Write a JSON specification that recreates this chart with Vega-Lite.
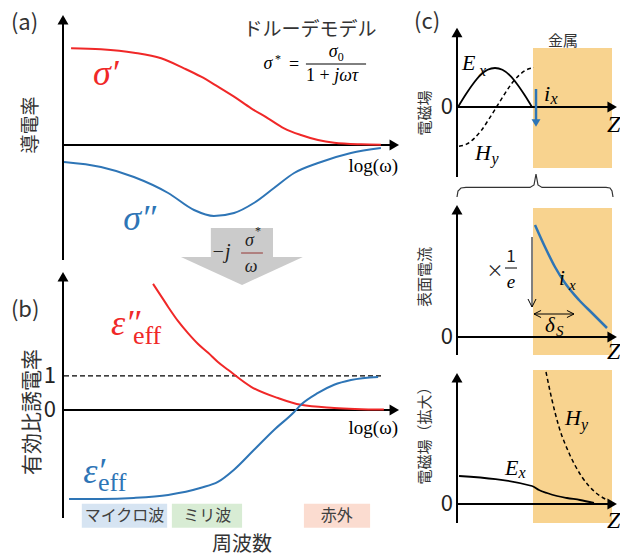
{
"$schema": "https://vega.github.io/schema/vega-lite/v6.json",
"background": "white",
"padding": {"left": 10, "top": 11, "right": 0, "bottom": 4},
"config": {"view": {"stroke": null}},
"spacing": 14,
"bounds": "full",
"hconcat": [
{"vconcat": [
{
"width": 336, "height": 251,
"encoding": {
"x": {"field": "x", "type": "quantitative", "scale": {"domain": [0, 10], "nice": false, "zero": false}, "axis": null},
"y": {"field": "y", "type": "quantitative", "scale": {"domain": [-1.21, 1.30], "nice": false, "zero": false}, "axis": null}
},
"layer": [
{"data": {"values": [{"x": 4.40, "x2": 6.25, "y": -0.83, "y2": -1.13}]}, "mark": {"type": "rect", "color": "#cbcbcb"}, "encoding": {"x2": {"field": "x2"}, "y2": {"field": "y2"}}},
{"data": {"values": [{"x": 3.51, "y": -1.12, "y2": -1.12}, {"x": 5.33, "y": -1.40, "y2": -1.12}, {"x": 7.14, "y": -1.12, "y2": -1.12}]}, "mark": {"type": "area", "color": "#cbcbcb", "opacity": 1, "interpolate": "linear"}, "encoding": {"y2": {"field": "y2"}}},
{"data": {"values": [{"x": 0, "y": -1.15, "x2": 0, "y2": 1.25}, {"x": 0, "y": 0, "x2": 9.86, "y2": 0}]}, "mark": {"type": "rule", "color": "black", "strokeWidth": 2}, "encoding": {"x2": {"field": "x2"}, "y2": {"field": "y2"}}},
{"data": {"values": [{"x": 0, "y": 1.2525}]}, "mark": {"type": "point", "shape": "triangle-up", "filled": true, "size": 120, "color": "black", "opacity": 1}},
{"data": {"values": [{"x": 9.86, "y": 0}]}, "mark": {"type": "point", "shape": "triangle-right", "filled": true, "size": 120, "color": "black", "opacity": 1}},
{"data": {"values": [{"x": 0.24, "y": 0.967}, {"x": 1.13, "y": 0.957}, {"x": 2.11, "y": 0.923}, {"x": 2.92, "y": 0.867}, {"x": 3.60, "y": 0.767}, {"x": 4.11, "y": 0.683}, {"x": 4.61, "y": 0.583}, {"x": 5.09, "y": 0.483}, {"x": 5.60, "y": 0.367}, {"x": 6.10, "y": 0.267}, {"x": 6.58, "y": 0.167}, {"x": 7.08, "y": 0.10}, {"x": 7.59, "y": 0.05}, {"x": 8.07, "y": 0.023}, {"x": 8.87, "y": 0.007}, {"x": 9.46, "y": 0.003}]}, "mark": {"type": "line", "color": "#f02828", "strokeWidth": 2, "interpolate": "monotone"}},
{"data": {"values": [{"x": 0.03, "y": -0.17}, {"x": 1.13, "y": -0.22}, {"x": 2.11, "y": -0.32}, {"x": 3.13, "y": -0.48}, {"x": 3.90, "y": -0.65}, {"x": 4.49, "y": -0.71}, {"x": 5.09, "y": -0.68}, {"x": 5.68, "y": -0.58}, {"x": 6.28, "y": -0.43}, {"x": 6.88, "y": -0.28}, {"x": 7.59, "y": -0.18}, {"x": 8.57, "y": -0.08}, {"x": 9.46, "y": -0.03}]}, "mark": {"type": "line", "color": "#2e75b6", "strokeWidth": 2, "interpolate": "monotone"}},
{"data": {"values": [{"x": 7.23, "x2": 9.02, "y": 0.81, "y2": 0.81}]}, "mark": {"type": "rule", "color": "black", "strokeWidth": 1}, "encoding": {"x2": {"field": "x2"}, "y2": {"field": "y2"}}},
{"data": {"values": [{"x": 5.30, "x2": 5.95, "y": -1.08, "y2": -1.08}]}, "mark": {"type": "rule", "color": "#943634", "strokeWidth": 1}, "encoding": {"x2": {"field": "x2"}, "y2": {"field": "y2"}}},
{"data": {"values": [{"x": -1.55, "y": 1.22, "t": "(a)"}]}, "mark": {"type": "text", "font": "Noto Sans CJK JP", "fontSize": 22, "align": "left", "baseline": "middle", "color": "#333333"}, "encoding": {"text": {"field": "t"}}},
{"data": {"values": [{"x": -0.95, "y": 0.20, "t": "導電率"}]}, "mark": {"type": "text", "font": "Noto Sans CJK JP", "fontSize": 19, "angle": 270, "align": "center", "baseline": "middle", "color": "#333333"}, "encoding": {"text": {"field": "t"}}},
{"data": {"values": [{"x": 7.35, "y": 1.15, "t": "ドルーデモデル"}]}, "mark": {"type": "text", "font": "Noto Sans CJK JP", "fontSize": 19, "align": "center", "baseline": "middle", "color": "#333333"}, "encoding": {"text": {"field": "t"}}},
{"data": {"values": [{"x": 6.10, "y": 0.81, "t": "σ"}, {"x": 8.04, "y": 0.93, "t": "σ"}]}, "mark": {"type": "text", "font": "Liberation Serif", "fontStyle": "italic", "fontSize": 18, "align": "center", "baseline": "middle", "color": "black"}, "encoding": {"text": {"field": "t"}}},
{"data": {"values": [{"x": 6.40, "y": 0.86, "t": "*"}]}, "mark": {"type": "text", "font": "Liberation Serif", "fontSize": 12, "align": "center", "baseline": "middle", "color": "black"}, "encoding": {"text": {"field": "t"}}},
{"data": {"values": [{"x": 8.27, "y": 0.88, "t": "0"}]}, "mark": {"type": "text", "font": "Liberation Serif", "fontSize": 12, "align": "center", "baseline": "middle", "color": "black"}, "encoding": {"text": {"field": "t"}}},
{"data": {"values": [{"x": 6.88, "y": 0.80, "t": "="}]}, "mark": {"type": "text", "font": "Liberation Serif", "fontSize": 18, "align": "center", "baseline": "middle", "color": "black"}, "encoding": {"text": {"field": "t"}}},
{"data": {"values": [{"x": 7.23, "y": 0.69, "t": "1 +"}]}, "mark": {"type": "text", "font": "Liberation Serif", "fontSize": 18, "align": "left", "baseline": "middle", "color": "black"}, "encoding": {"text": {"field": "t"}}},
{"data": {"values": [{"x": 8.07, "y": 0.69, "t": "jωτ"}]}, "mark": {"type": "text", "font": "Liberation Serif", "fontStyle": "italic", "fontSize": 18, "align": "left", "baseline": "middle", "color": "black"}, "encoding": {"text": {"field": "t"}}},
{"data": {"values": [{"x": 0.89, "y": 0.60, "t": "σ′"}]}, "mark": {"type": "text", "font": "Liberation Serif", "fontStyle": "italic", "fontSize": 36, "align": "left", "baseline": "alphabetic", "color": "#f02828"}, "encoding": {"text": {"field": "t"}}},
{"data": {"values": [{"x": 1.79, "y": -0.85, "t": "σ″"}]}, "mark": {"type": "text", "font": "Liberation Serif", "fontStyle": "italic", "fontSize": 36, "align": "left", "baseline": "alphabetic", "color": "#2e75b6"}, "encoding": {"text": {"field": "t"}}},
{"data": {"values": [{"x": 9.97, "y": -0.21, "t": "log(ω)"}]}, "mark": {"type": "text", "font": "Liberation Serif", "fontSize": 19, "align": "right", "baseline": "middle", "color": "black"}, "encoding": {"text": {"field": "t"}}},
{"data": {"values": [{"x": 4.70, "y": -1.07, "t": "−j"}]}, "mark": {"type": "text", "font": "Liberation Serif", "fontStyle": "italic", "fontSize": 20, "align": "center", "baseline": "middle", "color": "#222222"}, "encoding": {"text": {"field": "t"}}},
{"data": {"values": [{"x": 5.55, "y": -0.96, "t": "σ"}, {"x": 5.60, "y": -1.22, "t": "ω"}]}, "mark": {"type": "text", "font": "Liberation Serif", "fontStyle": "italic", "fontSize": 18, "align": "center", "baseline": "middle", "color": "#222222"}, "encoding": {"text": {"field": "t"}}},
{"data": {"values": [{"x": 5.80, "y": -0.86, "t": "*"}]}, "mark": {"type": "text", "font": "Liberation Serif", "fontSize": 12, "align": "center", "baseline": "middle", "color": "#222222"}, "encoding": {"text": {"field": "t"}}}
]
},
{
"width": 336, "height": 252,
"encoding": {
"x": {"field": "x", "type": "quantitative", "scale": {"domain": [0, 10], "nice": false, "zero": false}, "axis": null},
"y": {"field": "y", "type": "quantitative", "scale": {"domain": [-3.18, 4.235], "nice": false, "zero": false}, "axis": null}
},
"layer": [
{"data": {"values": [{"x": 0.56, "x2": 3.10, "y": -2.76, "y2": -3.47, "band": "マイクロ波"}, {"x": 3.24, "x2": 5.33, "y": -2.76, "y2": -3.47, "band": "ミリ波"}, {"x": 7.17, "x2": 9.14, "y": -2.76, "y2": -3.47, "band": "赤外"}]}, "mark": {"type": "rect", "opacity": 1}, "encoding": {"x2": {"field": "x2"}, "y2": {"field": "y2"}, "color": {"field": "band", "type": "nominal", "scale": {"domain": ["マイクロ波", "ミリ波", "赤外"], "range": ["#d6e4f2", "#d8ecd4", "#fbdcd0"]}, "legend": null}}},
{"data": {"values": [{"x": 1.83, "y": -3.12, "t": "マイクロ波"}, {"x": 4.29, "y": -3.12, "t": "ミリ波"}, {"x": 8.15, "y": -3.12, "t": "赤外"}]}, "mark": {"type": "text", "font": "Noto Sans CJK JP", "fontSize": 16, "align": "center", "baseline": "middle", "color": "#404040"}, "encoding": {"text": {"field": "t"}}},
{"data": {"values": [{"x": 0.03, "x2": 9.55, "y": 1, "y2": 1}]}, "mark": {"type": "rule", "color": "black", "strokeWidth": 1.2, "strokeDash": [5, 3]}, "encoding": {"x2": {"field": "x2"}, "y2": {"field": "y2"}}},
{"data": {"values": [{"x": 0, "y": -3.18, "x2": 0, "y2": 3.92}, {"x": 0, "y": 0, "x2": 9.86, "y2": 0}]}, "mark": {"type": "rule", "color": "black", "strokeWidth": 2}, "encoding": {"x2": {"field": "x2"}, "y2": {"field": "y2"}}},
{"data": {"values": [{"x": 0, "y": 3.92}]}, "mark": {"type": "point", "shape": "triangle-up", "filled": true, "size": 120, "color": "black", "opacity": 1}},
{"data": {"values": [{"x": 9.86, "y": 0}]}, "mark": {"type": "point", "shape": "triangle-right", "filled": true, "size": 120, "color": "black", "opacity": 1}},
{"data": {"values": [{"x": 2.68, "y": 3.71}, {"x": 2.92, "y": 3.35}, {"x": 3.13, "y": 3.03}, {"x": 3.42, "y": 2.62}, {"x": 3.72, "y": 2.26}, {"x": 4.02, "y": 1.94}, {"x": 4.32, "y": 1.68}, {"x": 4.61, "y": 1.41}, {"x": 4.91, "y": 1.18}, {"x": 5.60, "y": 0.68}, {"x": 6.40, "y": 0.35}, {"x": 7.08, "y": 0.15}, {"x": 8.07, "y": 0.06}, {"x": 9.55, "y": 0.01}]}, "mark": {"type": "line", "color": "#f02828", "strokeWidth": 2, "interpolate": "monotone"}},
{"data": {"values": [{"x": 0.18, "y": -2.62}, {"x": 1.13, "y": -2.62}, {"x": 2.11, "y": -2.59}, {"x": 3.13, "y": -2.50}, {"x": 4.11, "y": -2.29}, {"x": 4.61, "y": -2.12}, {"x": 5.09, "y": -1.76}, {"x": 5.68, "y": -1.18}, {"x": 6.28, "y": -0.59}, {"x": 6.88, "y": -0.06}, {"x": 7.08, "y": 0.15}, {"x": 7.59, "y": 0.50}, {"x": 8.07, "y": 0.74}, {"x": 8.57, "y": 0.88}, {"x": 9.38, "y": 0.97}]}, "mark": {"type": "line", "color": "#2e75b6", "strokeWidth": 2, "interpolate": "monotone"}},
{"data": {"values": [{"x": -1.55, "y": 2.94, "t": "(b)"}]}, "mark": {"type": "text", "font": "Noto Sans CJK JP", "fontSize": 22, "align": "left", "baseline": "middle", "color": "#333333"}, "encoding": {"text": {"field": "t"}}},
{"data": {"values": [{"x": -0.89, "y": -0.06, "t": "有効比誘電率"}]}, "mark": {"type": "text", "font": "Noto Sans CJK JP", "fontSize": 21, "angle": 270, "align": "center", "baseline": "middle", "color": "#333333"}, "encoding": {"text": {"field": "t"}}},
{"data": {"values": [{"x": -0.21, "y": 1, "t": "1"}, {"x": -0.21, "y": 0, "t": "0"}]}, "mark": {"type": "text", "font": "Noto Sans CJK JP", "fontSize": 22, "align": "right", "baseline": "middle", "color": "#222222"}, "encoding": {"text": {"field": "t"}}},
{"data": {"values": [{"x": 1.43, "y": 2.21, "t": "ε″"}]}, "mark": {"type": "text", "font": "Liberation Serif", "fontStyle": "italic", "fontSize": 36, "align": "left", "baseline": "alphabetic", "color": "#f02828"}, "encoding": {"text": {"field": "t"}}},
{"data": {"values": [{"x": 2.08, "y": 1.94, "t": "eff"}]}, "mark": {"type": "text", "font": "Liberation Serif", "fontSize": 26, "align": "left", "baseline": "alphabetic", "color": "#f02828"}, "encoding": {"text": {"field": "t"}}},
{"data": {"values": [{"x": 0.60, "y": -2.15, "t": "ε′"}]}, "mark": {"type": "text", "font": "Liberation Serif", "fontStyle": "italic", "fontSize": 36, "align": "left", "baseline": "alphabetic", "color": "#2e75b6"}, "encoding": {"text": {"field": "t"}}},
{"data": {"values": [{"x": 1.04, "y": -2.38, "t": "eff"}]}, "mark": {"type": "text", "font": "Liberation Serif", "fontSize": 26, "align": "left", "baseline": "alphabetic", "color": "#2e75b6"}, "encoding": {"text": {"field": "t"}}},
{"data": {"values": [{"x": 9.97, "y": -0.53, "t": "log(ω)"}]}, "mark": {"type": "text", "font": "Liberation Serif", "fontSize": 19, "align": "right", "baseline": "middle", "color": "black"}, "encoding": {"text": {"field": "t"}}},
{"data": {"values": [{"x": 5.33, "y": -3.97, "t": "周波数"}]}, "mark": {"type": "text", "font": "Noto Sans CJK JP", "fontSize": 20, "align": "center", "baseline": "middle", "color": "#333333"}, "encoding": {"text": {"field": "t"}}}
]
}
], "spacing": 0, "bounds": "flush"},
{"vconcat": [
{
"width": 160, "height": 176,
"encoding": {
"x": {"field": "x", "type": "quantitative", "scale": {"domain": [0, 8], "nice": false, "zero": false}, "axis": null},
"y": {"field": "y", "type": "quantitative", "scale": {"domain": [-2.1, 2.3], "nice": false, "zero": false}, "axis": null}
},
"layer": [
{"data": {"values": [{"x": 3.8, "x2": 7.75, "y": 1.475, "y2": -1.525}]}, "mark": {"type": "rect", "color": "#f8d38f", "opacity": 1}, "encoding": {"x2": {"field": "x2"}, "y2": {"field": "y2"}}},
{"data": {"values": [{"x": 0, "y": -1.75, "x2": 0, "y2": 1.86}, {"x": 0, "y": 0, "x2": 7.76, "y2": 0}]}, "mark": {"type": "rule", "color": "black", "strokeWidth": 2}, "encoding": {"x2": {"field": "x2"}, "y2": {"field": "y2"}}},
{"data": {"values": [{"x": 0, "y": 1.86}]}, "mark": {"type": "point", "shape": "triangle-up", "filled": true, "size": 120, "color": "black", "opacity": 1}},
{"data": {"values": [{"x": 7.76, "y": 0}]}, "mark": {"type": "point", "shape": "triangle-right", "filled": true, "size": 120, "color": "black", "opacity": 1}},
{"data": {"values": [{"x": 0.05, "y": 0}, {"x": 0.42, "y": 0.30}, {"x": 0.79, "y": 0.57}, {"x": 1.16, "y": 0.79}, {"x": 1.53, "y": 0.93}, {"x": 1.90, "y": 0.975}, {"x": 2.27, "y": 0.93}, {"x": 2.64, "y": 0.79}, {"x": 3.01, "y": 0.57}, {"x": 3.38, "y": 0.30}, {"x": 3.75, "y": 0}]}, "mark": {"type": "line", "color": "black", "strokeWidth": 1.8, "interpolate": "monotone"}},
{"data": {"values": [{"x": 0.1, "y": -0.98}, {"x": 0.475, "y": -0.93}, {"x": 0.85, "y": -0.79}, {"x": 1.225, "y": -0.58}, {"x": 1.6, "y": -0.30}, {"x": 1.975, "y": 0}, {"x": 2.35, "y": 0.30}, {"x": 2.725, "y": 0.58}, {"x": 3.1, "y": 0.79}, {"x": 3.475, "y": 0.93}, {"x": 3.85, "y": 0.98}]}, "mark": {"type": "line", "color": "black", "strokeWidth": 1.5, "strokeDash": [4, 3], "interpolate": "monotone"}},
{"data": {"values": [{"x": 3.95, "y": 0.45, "x2": 3.95, "y2": -0.35}]}, "mark": {"type": "rule", "color": "#2e75b6", "strokeWidth": 2.5}, "encoding": {"x2": {"field": "x2"}, "y2": {"field": "y2"}}},
{"data": {"values": [{"x": 3.95, "y": -0.40}]}, "mark": {"type": "point", "shape": "triangle-down", "filled": true, "size": 80, "color": "#2e75b6", "opacity": 1}},
{"data": {"values": [{"x": 0, "y": -2.25}, {"x": 0.05, "y": -2.1}, {"x": 0.2, "y": -2.025}, {"x": 0.45, "y": -2.01}, {"x": 3.65, "y": -2.01}, {"x": 3.85, "y": -1.95}, {"x": 3.95, "y": -1.675}, {"x": 4.05, "y": -1.95}, {"x": 4.25, "y": -2.01}, {"x": 7.45, "y": -2.01}, {"x": 7.65, "y": -2.025}, {"x": 7.75, "y": -2.1}, {"x": 7.8, "y": -2.25}]}, "mark": {"type": "line", "color": "#333333", "strokeWidth": 1.2, "interpolate": "linear"}},
{"data": {"values": [{"x": -2.15, "y": 2.125, "t": "(c)"}]}, "mark": {"type": "text", "font": "Noto Sans CJK JP", "fontSize": 22, "align": "left", "baseline": "middle", "color": "#333333"}, "encoding": {"text": {"field": "t"}}},
{"data": {"values": [{"x": -1.6, "y": -0.15, "t": "電磁場"}]}, "mark": {"type": "text", "font": "Noto Sans CJK JP", "fontSize": 15, "angle": 270, "align": "center", "baseline": "middle", "color": "#333333"}, "encoding": {"text": {"field": "t"}}},
{"data": {"values": [{"x": -0.2, "y": 0, "t": "0"}]}, "mark": {"type": "text", "font": "Noto Sans CJK JP", "fontSize": 22, "align": "right", "baseline": "middle", "color": "#222222"}, "encoding": {"text": {"field": "t"}}},
{"data": {"values": [{"x": 5.3, "y": 1.65, "t": "金属"}]}, "mark": {"type": "text", "font": "Noto Sans CJK JP", "fontSize": 15, "align": "center", "baseline": "middle", "color": "#333333"}, "encoding": {"text": {"field": "t"}}},
{"data": {"values": [{"x": 0.25, "y": 1.1, "t": "E"}, {"x": 0.9, "y": -1.15, "t": "H"}, {"x": 4.35, "y": 0.33, "t": "i"}]}, "mark": {"type": "text", "font": "Liberation Serif", "fontStyle": "italic", "fontSize": 22, "align": "left", "baseline": "middle", "color": "black"}, "encoding": {"text": {"field": "t"}}},
{"data": {"values": [{"x": 1.1, "y": 0.9, "t": "x"}, {"x": 1.72, "y": -1.3, "t": "y"}, {"x": 4.68, "y": 0.2, "t": "x"}]}, "mark": {"type": "text", "font": "Liberation Serif", "fontStyle": "italic", "fontSize": 16, "align": "left", "baseline": "middle", "color": "black"}, "encoding": {"text": {"field": "t"}}},
{"data": {"values": [{"x": 7.5, "y": -0.45, "t": "Z"}]}, "mark": {"type": "text", "font": "Liberation Serif", "fontStyle": "italic", "fontSize": 24, "align": "left", "baseline": "middle", "color": "black"}, "encoding": {"text": {"field": "t"}}}
]
},
{
"width": 160, "height": 173,
"encoding": {
"x": {"field": "x", "type": "quantitative", "scale": {"domain": [0, 8], "nice": false, "zero": false}, "axis": null},
"y": {"field": "y", "type": "quantitative", "scale": {"domain": [-0.675, 3.65], "nice": false, "zero": false}, "axis": null}
},
"layer": [
{"data": {"values": [{"x": 3.8, "x2": 7.75, "y": 3.225, "y2": -0.45}]}, "mark": {"type": "rect", "color": "#f8d38f", "opacity": 1}, "encoding": {"x2": {"field": "x2"}, "y2": {"field": "y2"}}},
{"data": {"values": [{"x": 0, "y": -0.45, "x2": 0, "y2": 3.18}, {"x": 0, "y": 0, "x2": 7.76, "y2": 0}]}, "mark": {"type": "rule", "color": "black", "strokeWidth": 2}, "encoding": {"x2": {"field": "x2"}, "y2": {"field": "y2"}}},
{"data": {"values": [{"x": 0, "y": 3.18}]}, "mark": {"type": "point", "shape": "triangle-up", "filled": true, "size": 120, "color": "black", "opacity": 1}},
{"data": {"values": [{"x": 7.76, "y": 0}]}, "mark": {"type": "point", "shape": "triangle-right", "filled": true, "size": 120, "color": "black", "opacity": 1}},
{"data": {"values": [{"x": 3.9, "y": 2.8}, {"x": 4.4, "y": 2.25}, {"x": 4.9, "y": 1.75}, {"x": 5.4, "y": 1.35}, {"x": 6.1, "y": 0.925}, {"x": 6.75, "y": 0.6}, {"x": 7.5, "y": 0.225}]}, "mark": {"type": "line", "color": "#2e75b6", "strokeWidth": 2.5, "interpolate": "monotone"}},
{"data": {"values": [{"x": 3.75, "y": 2.5, "x2": 3.75, "y2": 0.75}, {"x": 3.85, "y": 0.575, "x2": 5.85, "y2": 0.575}, {"x": 2.4, "y": 1.725, "x2": 3.0, "y2": 1.725}]}, "mark": {"type": "rule", "color": "black", "strokeWidth": 1}, "encoding": {"x2": {"field": "x2"}, "y2": {"field": "y2"}}},
{"data": {"values": [{"x": 3.75, "y": 0.75}]}, "mark": {"type": "point", "shape": "M -0.5 -1 L 0 0 L 0.5 -1", "filled": false, "size": 256, "strokeWidth": 1, "color": "black", "opacity": 1}},
{"data": {"values": [{"x": 3.85, "y": 0.575}]}, "mark": {"type": "point", "shape": "M 1 -0.5 L 0 0 L 1 0.5", "filled": false, "size": 200, "strokeWidth": 1, "color": "black", "opacity": 1}},
{"data": {"values": [{"x": 5.85, "y": 0.575}]}, "mark": {"type": "point", "shape": "M -1 -0.5 L 0 0 L -1 0.5", "filled": false, "size": 200, "strokeWidth": 1, "color": "black", "opacity": 1}},
{"data": {"values": [{"x": -1.6, "y": 1.5, "t": "表面電流"}]}, "mark": {"type": "text", "font": "Noto Sans CJK JP", "fontSize": 15, "angle": 270, "align": "center", "baseline": "middle", "color": "#333333"}, "encoding": {"text": {"field": "t"}}},
{"data": {"values": [{"x": -0.2, "y": 0, "t": "0"}]}, "mark": {"type": "text", "font": "Noto Sans CJK JP", "fontSize": 22, "align": "right", "baseline": "middle", "color": "#222222"}, "encoding": {"text": {"field": "t"}}},
{"data": {"values": [{"x": 1.9, "y": 1.625, "t": "×"}, {"x": 2.7, "y": 2.0, "t": "1"}]}, "mark": {"type": "text", "font": "Noto Sans CJK JP", "fontSize": 17, "align": "center", "baseline": "middle", "color": "#222222"}, "encoding": {"text": {"field": "t"}}},
{"data": {"values": [{"x": 2.7, "y": 1.375, "t": "e"}]}, "mark": {"type": "text", "font": "Liberation Serif", "fontStyle": "italic", "fontSize": 19, "align": "center", "baseline": "middle", "color": "black"}, "encoding": {"text": {"field": "t"}}},
{"data": {"values": [{"x": 5.1, "y": 1.45, "t": "i"}, {"x": 4.4, "y": 0.275, "t": "δ"}]}, "mark": {"type": "text", "font": "Liberation Serif", "fontStyle": "italic", "fontSize": 21, "align": "left", "baseline": "middle", "color": "black"}, "encoding": {"text": {"field": "t"}}},
{"data": {"values": [{"x": 5.6, "y": 1.3, "t": "x"}, {"x": 4.95, "y": 0.15, "t": "S"}]}, "mark": {"type": "text", "font": "Liberation Serif", "fontStyle": "italic", "fontSize": 15, "align": "left", "baseline": "middle", "color": "black"}, "encoding": {"text": {"field": "t"}}},
{"data": {"values": [{"x": 7.5, "y": -0.375, "t": "Z"}]}, "mark": {"type": "text", "font": "Liberation Serif", "fontStyle": "italic", "fontSize": 24, "align": "left", "baseline": "middle", "color": "black"}, "encoding": {"text": {"field": "t"}}}
]
},
{
"width": 160, "height": 159,
"encoding": {
"x": {"field": "x", "type": "quantitative", "scale": {"domain": [0, 8], "nice": false, "zero": false}, "axis": null},
"y": {"field": "y", "type": "quantitative", "scale": {"domain": [-0.475, 3.5], "nice": false, "zero": false}, "axis": null}
},
"layer": [
{"data": {"values": [{"x": 3.8, "x2": 7.75, "y": 3.35, "y2": -0.475}]}, "mark": {"type": "rect", "color": "#f8d38f", "opacity": 1}, "encoding": {"x2": {"field": "x2"}, "y2": {"field": "y2"}}},
{"data": {"values": [{"x": 0, "y": -0.475, "x2": 0, "y2": 3.156}, {"x": 0, "y": 0, "x2": 7.76, "y2": 0}]}, "mark": {"type": "rule", "color": "black", "strokeWidth": 2}, "encoding": {"x2": {"field": "x2"}, "y2": {"field": "y2"}}},
{"data": {"values": [{"x": 0, "y": 3.156}]}, "mark": {"type": "point", "shape": "triangle-up", "filled": true, "size": 120, "color": "black", "opacity": 1}},
{"data": {"values": [{"x": 7.76, "y": 0}]}, "mark": {"type": "point", "shape": "triangle-right", "filled": true, "size": 120, "color": "black", "opacity": 1}},
{"data": {"values": [{"x": 0.1, "y": 0.7}, {"x": 3.75, "y": 0.45}, {"x": 4.1, "y": 0.35}, {"x": 4.5, "y": 0.275}, {"x": 5.0, "y": 0.2}, {"x": 5.5, "y": 0.15}, {"x": 6.15, "y": 0.1}, {"x": 6.85, "y": 0.025}]}, "mark": {"type": "line", "color": "black", "strokeWidth": 1.8, "interpolate": "monotone"}},
{"data": {"values": [{"x": 4.45, "y": 3.3}, {"x": 4.75, "y": 2.6}, {"x": 5.1, "y": 1.925}, {"x": 5.6, "y": 1.275}, {"x": 6.25, "y": 0.675}, {"x": 6.9, "y": 0.3}, {"x": 7.5, "y": 0.1}]}, "mark": {"type": "line", "color": "black", "strokeWidth": 1.5, "strokeDash": [4, 3], "interpolate": "monotone"}},
{"data": {"values": [{"x": -1.6, "y": 1.8, "t": "電磁場（拡大）"}]}, "mark": {"type": "text", "font": "Noto Sans CJK JP", "fontSize": 15, "angle": 270, "align": "center", "baseline": "middle", "color": "#333333"}, "encoding": {"text": {"field": "t"}}},
{"data": {"values": [{"x": -0.2, "y": 0, "t": "0"}]}, "mark": {"type": "text", "font": "Noto Sans CJK JP", "fontSize": 22, "align": "right", "baseline": "middle", "color": "#222222"}, "encoding": {"text": {"field": "t"}}},
{"data": {"values": [{"x": 5.4, "y": 2.15, "t": "H"}, {"x": 2.4, "y": 0.9, "t": "E"}]}, "mark": {"type": "text", "font": "Liberation Serif", "fontStyle": "italic", "fontSize": 22, "align": "left", "baseline": "middle", "color": "black"}, "encoding": {"text": {"field": "t"}}},
{"data": {"values": [{"x": 6.2, "y": 1.975, "t": "y"}, {"x": 3.07, "y": 0.775, "t": "x"}]}, "mark": {"type": "text", "font": "Liberation Serif", "fontStyle": "italic", "fontSize": 16, "align": "left", "baseline": "middle", "color": "black"}, "encoding": {"text": {"field": "t"}}},
{"data": {"values": [{"x": 7.5, "y": -0.425, "t": "Z"}]}, "mark": {"type": "text", "font": "Liberation Serif", "fontStyle": "italic", "fontSize": 24, "align": "left", "baseline": "middle", "color": "black"}, "encoding": {"text": {"field": "t"}}}
]
}
], "spacing": 0, "bounds": "flush"}
]
}
